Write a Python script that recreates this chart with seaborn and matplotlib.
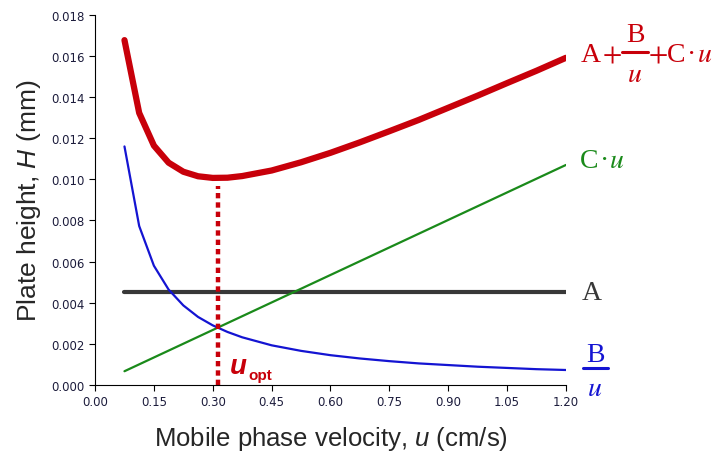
import pandas as pd
import matplotlib.pyplot as plt
import seaborn as sns

# vitesses (cm/s)
u = [0.075, 0.1125, 0.15, 0.1875, 0.225, 0.2625, 0.3, 0.3375, 0.375, 0.45,
     0.525, 0.6, 0.675, 0.75, 0.825, 0.9, 0.975, 1.05, 1.125, 1.2]
# terme B/u (bleu)
b_term = [0.0116, 0.00773, 0.0058, 0.00464, 0.00387, 0.00331, 0.0029, 0.00258,
          0.00232, 0.00193, 0.00166, 0.00145, 0.00129, 0.00116, 0.00105,
          0.00097, 0.00089, 0.00083, 0.00077, 0.00073]
# somme A + B/u + C.u (rouge)
h_total = [0.01677, 0.01323, 0.01164, 0.01081, 0.01037, 0.01015, 0.01007,
           0.01008, 0.01016, 0.01043, 0.01083, 0.01129, 0.0118, 0.01234,
           0.01289, 0.01348, 0.01407, 0.01468, 0.01528, 0.01591]
# droites : terme A et terme C.u
u_line = [0.075, 1.2]
a_term = [0.0045, 0.0045]
c_term = [0.00067, 0.0107]
u_opt = 0.313
h_min = 0.0101

red = "#c8000a"
green = "#1a8a1a"
blue = "#1414d2"
grey = "#383838"

sns.set_style("ticks")
plt.rcParams['font.family'] = ['Liberation Sans', 'DejaVu Sans']
# fontes "custom" pour les libellés des axes (sans-serif italique)
plt.rcParams['mathtext.fontset'] = 'custom'
plt.rcParams['mathtext.rm'] = 'Liberation Sans'
plt.rcParams['mathtext.it'] = 'Liberation Sans:italic'

df = pd.DataFrame({"u": u, "B/u": b_term, "H": h_total})
dl = pd.DataFrame({"u": u_line, "A": a_term, "C.u": c_term})

W, H = 720, 452
fig, ax = plt.subplots(figsize=(W / 100, H / 100), dpi=100)
fig.subplots_adjust(left=0.132, right=0.786, bottom=0.146, top=0.965)

sns.lineplot(data=dl, x="u", y="A", color=grey, linewidth=3, ax=ax)
sns.lineplot(data=dl, x="u", y="C.u", color=green, linewidth=1.6, ax=ax)
sns.lineplot(data=df, x="u", y="B/u", color=blue, linewidth=1.6, ax=ax)
sns.lineplot(data=df, x="u", y="H", color=red, linewidth=4.5, ax=ax)
ax.plot([u_opt, u_opt], [0, h_min - 0.0004], color=red, linewidth=3.2,
        linestyle=(0, (1.2, 0.9)), clip_on=False)

ax.set_xlim(0, 1.2)
ax.set_ylim(0, 0.018)
ax.set_xticks([i * 0.15 for i in range(9)])
ax.set_yticks([i * 0.002 for i in range(10)])
ax.xaxis.set_major_formatter(plt.FormatStrFormatter('%.2f'))
ax.yaxis.set_major_formatter(plt.FormatStrFormatter('%.3f'))
ax.tick_params(labelsize=8.5, colors="black", labelcolor="#1c1c3c", length=4)
for lbl in ax.get_xticklabels() + ax.get_yticklabels():
    lbl.set_family('DejaVu Sans')
for s in ["left", "bottom"]:
    ax.spines[s].set_color("black")
sns.despine(ax=ax)

ax.set_xlabel(r"Mobile phase velocity, $\mathit{u}$ (cm/s)", fontsize=18.5,
              labelpad=11, math_fontfamily='custom')
ax.set_ylabel(r"Plate height, $\mathit{H}$ (mm)", fontsize=19, labelpad=6,
              math_fontfamily='custom')


# étiquettes des courbes à droite (style Times), positions en pixels
def lab(x, y, s, color, ha="left"):
    fig.text(x / W, 1 - y / H, s, color=color, fontsize=20, ha=ha, va="center",
             family=['Liberation Serif', 'DejaVu Serif'], math_fontfamily='stix')


def frac(xc, ybar, yb, yu, half, color):
    lab(xc, yb, "B", color, ha="center")
    lab(xc, yu, "$u$", color, ha="center")
    fig.add_artist(plt.Line2D([(xc - half) / W, (xc + half) / W], [1 - ybar / H] * 2,
                              transform=fig.transFigure, color=color, lw=2.2))


lab(581, 55, "A", red)
lab(612, 55, "$+$", red, ha="center")
frac(635, 53, 36, 76, 13, red)
lab(658, 55, "$+$", red, ha="center")
lab(667, 55, "C", red)
lab(692, 55, "\u00b7", red, ha="center")
lab(697, 55, "$u$", red)

lab(580, 162, "C", green)
lab(605, 162, "\u00b7", green, ha="center")
lab(609, 162, "$u$", green)
lab(582, 294, "A", grey)
frac(595, 369, 355, 390, 12.5, blue)

ax.text(u_opt + 0.03, 0.0009, "u", color=red, fontsize=20, fontstyle="italic",
        fontweight="bold", va="center", ha="left")
ax.text(u_opt + 0.077, 0.0005, "opt", color=red, fontsize=11,
        fontweight="bold", va="center", ha="left")

fig.savefig("out.png", dpi=100)
